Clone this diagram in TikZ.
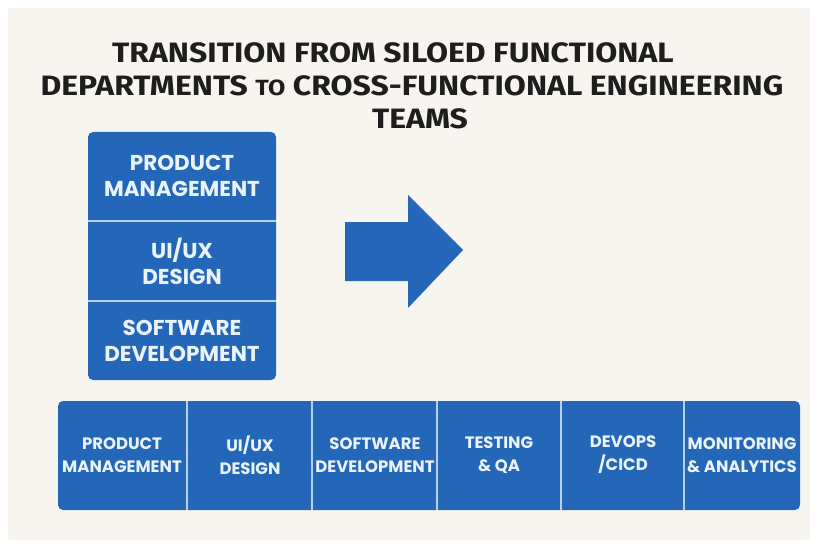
\documentclass[tikz,border=0pt]{standalone}
\usepackage{fontspec}
\setmainfont{Poppins}
\newfontfamily\titlefont[FakeStretch=1.14]{Fira Sans}
\definecolor{bgc}{HTML}{F8F5F0}
\definecolor{cellblue}{HTML}{2467B9}
\definecolor{celltext}{HTML}{EAF2FB}
\definecolor{divc}{HTML}{B5D0F0}
\definecolor{titlec}{HTML}{1E1E1E}
\tikzset{
  panel/.style={fill=cellblue, rounded corners=5pt, draw=none},
  celltxt/.style={text=celltext, align=center, inner sep=0pt, font=\bfseries\fontsize{21.5}{26}\selectfont},
  smalltxt/.style={text=celltext, align=center, inner sep=0pt, font=\bfseries\fontsize{16.5}{23}\selectfont},
  divider/.style={draw=divc, line width=1.8pt},
  titletxt/.style={text=titlec, align=center, inner sep=0pt, anchor=base, font=\titlefont\bfseries\fontsize{28}{34}\selectfont}
}
\begin{document}
\begin{tikzpicture}[x=1pt,y=-1pt]
\useasboundingbox (0,0) rectangle (818,548);
\fill[white] (0,0) rectangle (818,548);
\fill[bgc] (8,8) rectangle (810,540);
% title
\node[titletxt] (title1) at (393,63) {TRANSITION FROM SILOED FUNCTIONAL};
\node[titletxt] (title2) at (412,96) {DEPARTMENTS {\fontsize{22}{34}\selectfont TO} CROSS-FUNCTIONAL ENGINEERING};
\node[titletxt] (title3) at (420,129) {TEAMS};
% left stack
\node[panel, minimum width=188pt, minimum height=248pt, inner sep=0pt] (stack) at (182,256) {};
\node[celltxt] (s1) at (182,176) {PRODUCT\\MANAGEMENT};
\node[celltxt] (s2) at (182,261) {UI/UX\\DESIGN};
\node[celltxt] (s3) at (182,341) {SOFTWARE\\DEVELOPMENT};
\coordinate (d1a) at (88,221); \coordinate (d1b) at (276,221);
\coordinate (d2a) at (88,301); \coordinate (d2b) at (276,301);
\draw[divider] (d1a) -- (d1b);
\draw[divider] (d2a) -- (d2b);
% arrow
\fill[cellblue] (345,222) -- (408,222) -- (408,195) -- (463,250) -- (408,308) -- (408,281) -- (345,281) -- cycle;
% bottom bar
\node[panel, minimum width=742pt, minimum height=109pt, inner sep=0pt] (bar) at (429,455.5) {};
\node[smalltxt] (b1) at (122,455) {PRODUCT\\MANAGEMENT};
\node[smalltxt] (b2) at (250,455) {UI/UX\\DESIGN};
\node[smalltxt] (b3) at (375,455) {SOFTWARE\\DEVELOPMENT};
\node[smalltxt] (b4) at (499,455) {TESTING\\\&{} QA};
\node[smalltxt] (b5) at (623,455) {DEVOPS\\/CICD};
\node[smalltxt] (b6) at (742,455) {MONITORING\\\&{} ANALYTICS};
\foreach \x/\n in {187/1,312/2,437/3,561/4,684/5}{
  \coordinate (v\n a) at (\x,401); \coordinate (v\n b) at (\x,510);
  \draw[divider] (v\n a) -- (v\n b);
}
\end{tikzpicture}
\end{document}
